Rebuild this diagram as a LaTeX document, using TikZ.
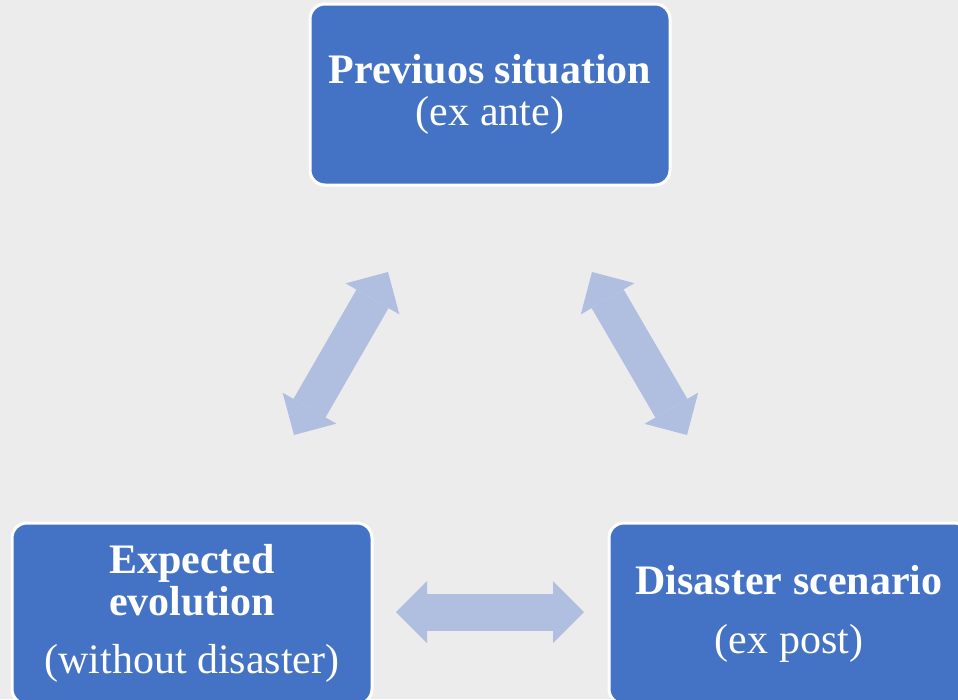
\documentclass[tikz,border=0pt]{standalone}
\usepackage{fontspec}
\setmainfont{Liberation Serif}
\usepackage{tikz}
\usetikzlibrary{arrows.meta,positioning}
\definecolor{bgray}{HTML}{ECECEC}
\definecolor{boxblue}{HTML}{4472C4}
\definecolor{arrblue}{HTML}{B0BEDF}

\begin{document}
\begin{tikzpicture}[
  x=1pt,y=-1pt,
  font=\fontsize{42}{42}\selectfont,
  box/.style={draw=white,line width=3pt,fill=boxblue,rounded corners=15pt,text=white,align=center,minimum width=360pt,minimum height=181pt,inner sep=0pt},
  dblarr/.style={draw=arrblue,line width=37pt,{Triangle[width=62pt,length=31pt,line width=0pt]}-{Triangle[width=62pt,length=31pt,line width=0pt]}}
]
\fill[bgray] (0,0) rectangle (958,699);
\useasboundingbox (0,0) rectangle (958,699);
\clip (0,0) rectangle (958,699);
\node[box] (prev) at (490,94.5) {\textbf{Previuos situation}\\(ex ante)};
\node[box] (expect) at (192,613.5) {\textbf{Expected}\\\textbf{evolution}\\[16pt](without disaster)};
\node[box] (disast) at (789,613.5) {\textbf{Disaster scenario}\\[17pt](ex post)};
% arrow ends
\coordinate (lt) at (388,272);
\coordinate (lb) at (294,435);
\coordinate (rt) at (592,272);
\coordinate (rb) at (687,435);
\coordinate (hl) at (396,612);
\coordinate (hr) at (584,612);
\draw[dblarr] (lb) -- (lt);
\draw[dblarr] (rt) -- (rb);
\draw[dblarr] (hl) -- (hr);
\end{tikzpicture}
\end{document}
